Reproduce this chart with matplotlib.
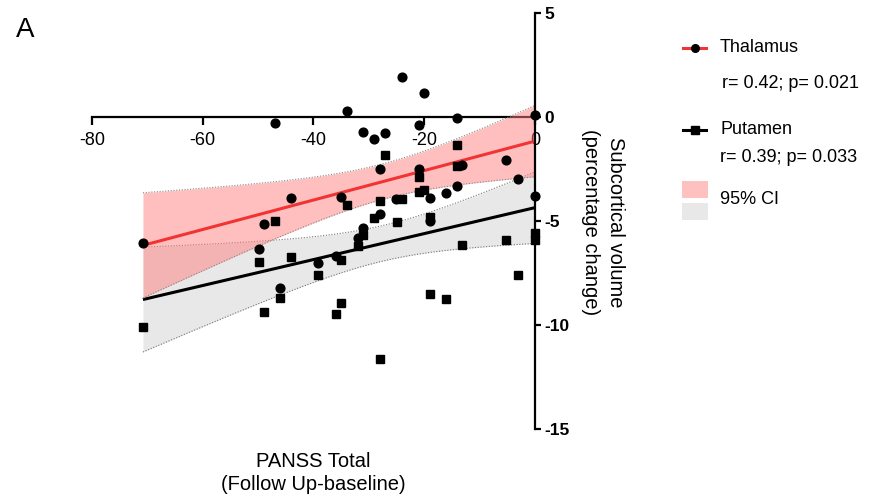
import numpy as np
import matplotlib
matplotlib.use("Agg")
import matplotlib.pyplot as plt
from matplotlib.lines import Line2D
from matplotlib.patches import Rectangle

plt.rcParams['font.family'] = ['Liberation Sans', 'DejaVu Sans']

# ---------------- data ----------------
thal_x = [-70.8, -49.9, -49.0, -46.9, -46.0, -44.0, -39.1, -36.0, -35.0, -34.0,
          -31.9, -31.0, -31.0, -29.0, -28.0, -28.0, -27.1, -25.1, -24.1, -21.0,
          -21.0, -20.1, -19.0, -19.0, -16.1, -14.1, -14.1, -13.1, -5.2, -3.1,
          0.0, 0.0]
thal_y = [-6.06, -6.35, -5.13, -0.29, -8.24, -3.9, -7.0, -6.7, -3.85, 0.3,
          -5.8, -0.74, -5.34, -1.08, -2.49, -4.66, -0.79, -3.94, 1.9, -0.37,
          -2.49, 1.15, -3.9, -5.0, -3.67, -0.05, -3.3, -2.3, -2.05, -3.0,
          0.1, -3.78]

put_x = [-70.8, -49.9, -49.0, -46.9, -46.0, -44.0, -39.1, -36.0, -35.0, -35.0,
         -34.0, -31.9, -31.0, -29.0, -28.0, -28.0, -27.1, -25.0, -24.1, -21.0,
         -21.0, -20.0, -19.0, -19.0, -16.1, -14.1, -14.1, -13.1, -5.2, -3.1,
         0.0, 0.0]
put_y = [-10.1, -6.97, -9.36, -5.0, -8.72, -6.73, -7.6, -9.46, -6.86, -8.94,
         -4.22, -6.19, -5.69, -4.86, -4.02, -11.63, -1.81, -5.07, -3.94, -2.9,
         -3.62, -3.5, -4.8, -8.5, -8.73, -1.35, -2.37, -6.14, -5.9, -7.6,
         -5.6, -5.9]

x_ticks = [-80, -60, -40, -20, 0]
y_ticks = [5, 0, -5, -10, -15]
thal_stats = "r= 0.42; p= 0.021"
put_stats = "r= 0.39; p= 0.033"
T_CRIT = 2.04  # 95% two-sided, df ~ 30


def fit_ci(x, y, grid):
    x = np.asarray(x, float)
    y = np.asarray(y, float)
    n = len(x)
    b, a = np.polyfit(x, y, 1)
    resid = y - (a + b * x)
    s = np.sqrt(np.sum(resid ** 2) / (n - 2))
    sxx = np.sum((x - x.mean()) ** 2)
    yhat = a + b * grid
    se = s * np.sqrt(1.0 / n + (grid - x.mean()) ** 2 / sxx)
    return yhat, yhat - T_CRIT * se, yhat + T_CRIT * se


W, H = 873, 499
fig = plt.figure(figsize=(W / 100, H / 100), dpi=100)
ax = fig.add_axes([92 / W, 1 - 429 / H, (535 - 92) / W, (429 - 13) / H])
ax.set_xlim(-80, 0)
ax.set_ylim(-15, 5)

grid = np.linspace(min(thal_x), max(thal_x), 200)
t_fit, t_lo, t_hi = fit_ci(thal_x, thal_y, grid)
p_fit, p_lo, p_hi = fit_ci(put_x, put_y, grid)

pink = '#FF8080'
grey = '#E8E8E8'
# putamen band
ax.fill_between(grid, p_lo, p_hi, color=grey, lw=0, zorder=1)
ax.plot(grid, p_lo, ls=(0, (1, 1.5)), color='#777777', lw=0.8, zorder=1.1)
ax.plot(grid, p_hi, ls=(0, (1, 1.5)), color='#777777', lw=0.8, zorder=1.1)
ax.plot(grid, p_fit, color='black', lw=2.2, zorder=2, solid_capstyle='butt')
# thalamus band
ax.fill_between(grid, t_lo, t_hi, color=pink, alpha=0.5, lw=0, zorder=3)
ax.plot(grid, t_lo, ls=(0, (1, 1.5)), color='#888888', lw=0.8, zorder=3.1)
ax.plot(grid, t_hi, ls=(0, (1, 1.5)), color='#888888', lw=0.8, zorder=3.1)
ax.plot(grid, t_fit, color='#F23333', lw=2.2, zorder=4, solid_capstyle='butt')

ax.plot(put_x, put_y, ls='none', marker='s', ms=6, color='black', zorder=5, clip_on=False)
ax.plot(thal_x, thal_y, ls='none', marker='o', ms=6.3, color='black', zorder=5, clip_on=False)

# spines
ax.spines['left'].set_visible(False)
ax.spines['top'].set_visible(False)
ax.spines['bottom'].set_position(('data', 0))
ax.spines['bottom'].set_linewidth(1.6)
ax.spines['right'].set_linewidth(1.6)
ax.spines['bottom'].set_zorder(0.5)
ax.spines['right'].set_zorder(6)
ax.yaxis.tick_right()
ax.set_xticks(x_ticks)
ax.set_xticklabels([str(v) for v in x_ticks])
ax.set_yticks(y_ticks)
ax.set_yticklabels([str(v) for v in y_ticks], fontweight='bold')
ax.tick_params(axis='x', direction='out', length=5.5, width=1.6, labelsize=13, pad=5)
ax.tick_params(axis='y', direction='out', length=4, width=1.6, labelsize=12.5, pad=3)
ax.patch.set_visible(False)

# axis titles
fig.text(313 / W, 1 - 473 / H, "PANSS Total\n(Follow Up-baseline)", ha='center', va='center',
         fontsize=14.5, linespacing=1.3)
fig.text(603 / W, 1 - 222 / H, "Subcortical volume\n(percentage change)", ha='center', va='center',
         rotation=-90, fontsize=14.5, linespacing=1.4, multialignment='center')
fig.text(16 / W, 1 - 30 / H, "A", ha='left', va='center', fontsize=20)

# legend
def fy(py):
    return 1 - py / H

fig.add_artist(Line2D([683 / W, 706 / W], [fy(48), fy(48)], color='#F23333', lw=2.2))
fig.add_artist(Line2D([694.5 / W], [fy(48)], marker='o', ms=5.5, color='black', ls='none'))
fig.text(720 / W, fy(48), "Thalamus", ha='left', va='center', fontsize=13)
fig.text(722 / W, fy(84), thal_stats, ha='left', va='center', fontsize=13)

fig.add_artist(Line2D([683 / W, 706 / W], [fy(130), fy(130)], color='black', lw=2.2))
fig.add_artist(Line2D([694.5 / W], [fy(130)], marker='s', ms=5.5, color='black', ls='none'))
fig.text(720 / W, fy(130), "Putamen", ha='left', va='center', fontsize=13)
fig.text(720 / W, fy(157), put_stats, ha='left', va='center', fontsize=13)

fig.add_artist(Rectangle((682 / W, fy(198)), 26 / W, 17 / H, color='#FFC0C0', lw=0))
fig.add_artist(Rectangle((682 / W, fy(220)), 26 / W, 17 / H, color=grey, lw=0))
fig.text(720 / W, fy(199), "95% CI", ha='left', va='center', fontsize=13)

fig.savefig("out.png", dpi=100)
